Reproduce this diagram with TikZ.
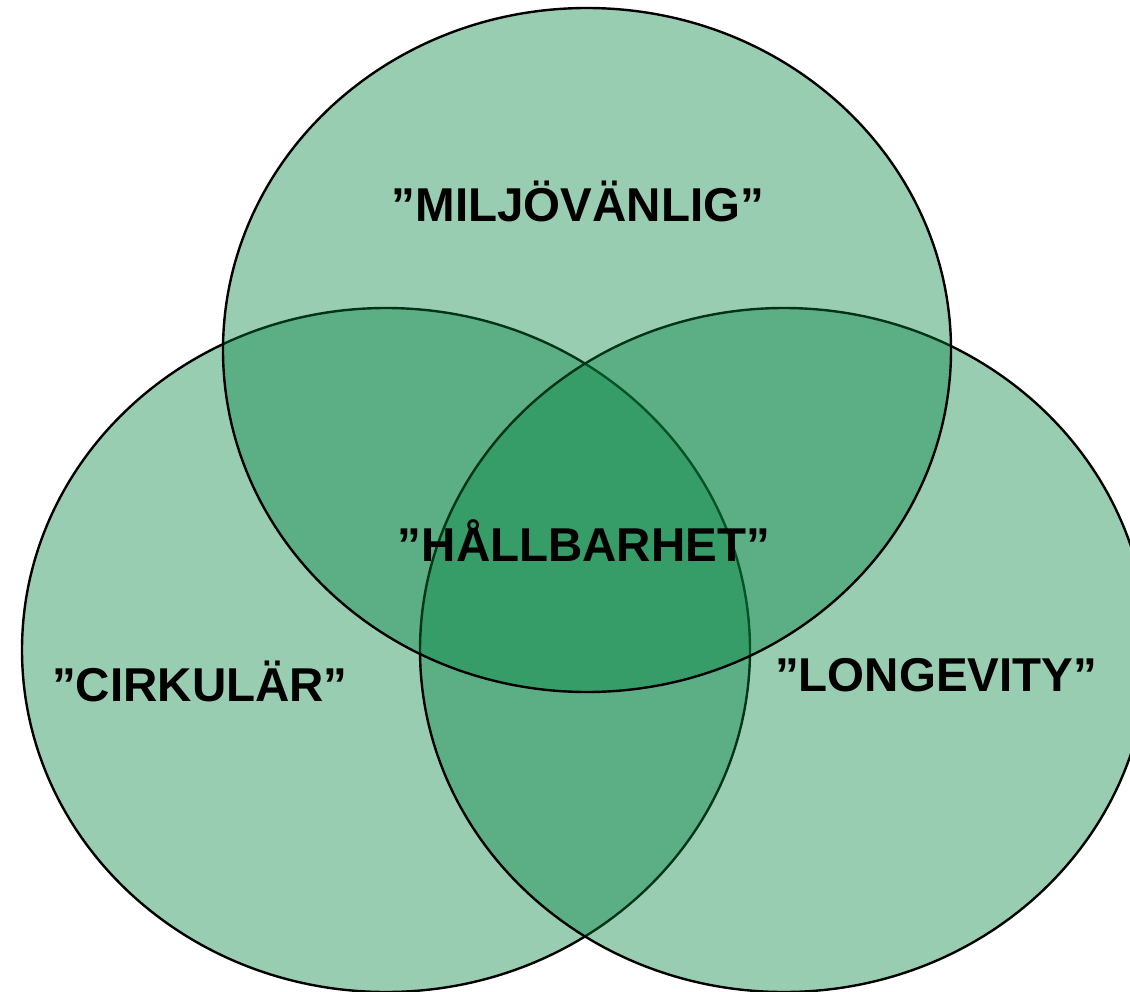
\documentclass[tikz,border=0pt]{standalone}
\usepackage{fontspec}
\setmainfont{Liberation Sans}
\usepackage{tikz}
\definecolor{venngreen}{RGB}{0,130,62}

\begin{document}
\begin{tikzpicture}[x=0.5pt, y=-0.5pt,
    set/.style={fill=venngreen, fill opacity=0.4, draw=black, line width=1.2pt},
    every node/.style={anchor=base, font=\fontsize{23.75}{28}\selectfont\bfseries}]
            \useasboundingbox (0,0) rectangle (1130,991);
            \filldraw[set] (386,650) ellipse [x radius=364, y radius=342];
            \filldraw[set] (784,650) ellipse [x radius=364, y radius=342];
            \filldraw[set] (587,350) ellipse [x radius=364, y radius=342];
            \node (miljo) at (578,221) {”MILJÖVÄNLIG”};
            \node (cirk) at (200,701) {”CIRKULÄR”};
            \node (longev) at (936,691) {”LONGEVITY”};
            \node (hall) at (584,561) {”HÅLLBARHET”};
        \end{tikzpicture}
\end{document}
